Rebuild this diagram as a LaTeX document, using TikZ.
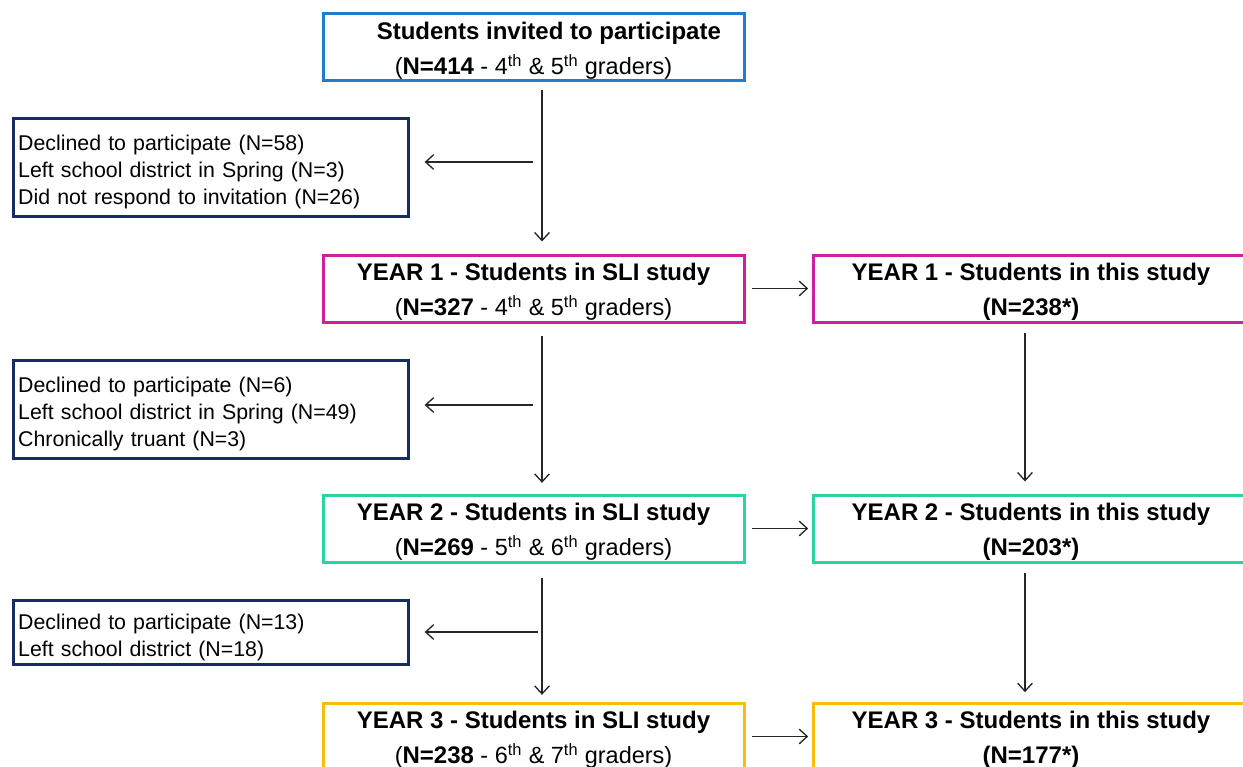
\documentclass[tikz,border=0pt]{standalone}
\usepackage{fontspec}
\setmainfont{Liberation Sans}
\usetikzlibrary{arrows.meta}
\definecolor{cblue}{RGB}{31,125,208}
\definecolor{cnavy}{RGB}{24,44,100}
\definecolor{cmag}{RGB}{204,32,160}
\definecolor{cteal}{RGB}{40,212,160}
\definecolor{cyel}{RGB}{250,190,10}
\newcommand{\boldpart}[1]{{\fontsize{18}{26.25}\selectfont\bfseries #1}}
\newcommand{\topstrut}{\rule{0pt}{18.5pt}}
\newcommand{\mainstrut}{\rule{0pt}{17.8pt}}
\begin{document}
\begin{tikzpicture}[x=0.75pt,y=-0.75pt,
  mainbox/.style={draw, line width=2.25pt, minimum width=315.75pt, minimum height=50.25pt,
    inner sep=0pt, align=center, font=\fontsize{17.6}{26.25}\selectfont},
  rightbox/.style={mainbox, minimum width=327pt},
  sidebox/.style={draw=cnavy, line width=2.25pt, minimum width=296.25pt, inner xsep=3.5pt, inner ysep=0pt,
    text width=289.25pt, align=left, font=\fontsize{16}{20.25}\selectfont},
  arr/.style={line width=1pt, draw=black!85, -{Straight Barb[length=6pt,width=11pt]}}]
\clip (0,0) rectangle (1243,767);
\fill[white] (0,0) rectangle (1243,767);
% boxes
\node[mainbox, draw=cblue] (top) at (533.5,47.5)
  {\mainstrut\hspace*{23pt}\boldpart{Students invited to participate}\\(\boldpart{N=414} - 4\textsuperscript{th} \& 5\textsuperscript{th} graders)};
\node[sidebox, minimum height=73.5pt] (d1) at (211,167.5)
  {\topstrut Declined to participate (N=58)\\Left school district in Spring (N=3)\\Did not respond to invitation (N=26)};
\node[mainbox, draw=cmag] (y1) at (533.5,288.5)
  {\mainstrut\boldpart{YEAR 1 - Students in SLI study}\\(\boldpart{N=327} - 4\textsuperscript{th} \& 5\textsuperscript{th} graders)};
\node[rightbox, draw=cmag] (t1) at (1031,288.5)
  {\mainstrut\boldpart{YEAR 1 - Students in this study}\\\boldpart{(N=238*)}};
\node[sidebox, minimum height=73.5pt] (d2) at (211,409)
  {\topstrut Declined to participate (N=6)\\Left school district in Spring (N=49)\\Chronically truant (N=3)};
\node[mainbox, draw=cteal] (y2) at (533.5,528.5)
  {\mainstrut\boldpart{YEAR 2 - Students in SLI study}\\(\boldpart{N=269} - 5\textsuperscript{th} \& 6\textsuperscript{th} graders)};
\node[rightbox, draw=cteal] (t2) at (1031,528.5)
  {\mainstrut\boldpart{YEAR 2 - Students in this study}\\\boldpart{(N=203*)}};
\node[sidebox, minimum height=48pt] (d3) at (211,632.5)
  {\topstrut Declined to participate (N=13)\\Left school district (N=18)};
\node[mainbox, draw=cyel] (y3) at (533.5,736.5)
  {\mainstrut\boldpart{YEAR 3 - Students in SLI study}\\(\boldpart{N=238} - 6\textsuperscript{th} \& 7\textsuperscript{th} graders)};
\node[rightbox, draw=cyel] (t3) at (1031,736.5)
  {\mainstrut\boldpart{YEAR 3 - Students in this study}\\\boldpart{(N=177*)}};
% coordinates
\coordinate (mx) at (542,0);
\coordinate (rx) at (1025,0);
\coordinate (s1) at (533,162);
\coordinate (s2) at (533,405);
\coordinate (s3) at (538,632);
% main vertical arrows
\draw[arr, shorten <=6pt, shorten >=9pt] (top.south -| mx) -- (y1.north -| mx);
\draw[arr, shorten <=9pt, shorten >=8pt] (y1.south -| mx) -- (y2.north -| mx);
\draw[arr, shorten <=11pt, shorten >=5pt] (y2.south -| mx) -- (y3.north -| mx);
% left arrows
\draw[arr, shorten >=11pt] (s1) -- (d1.east |- s1);
\draw[arr, shorten >=11pt] (s2) -- (d2.east |- s2);
\draw[arr, shorten >=11pt] (s3) -- (d3.east |- s3);
% right arrows
\draw[arr, shorten <=4.5pt, shorten >=2.5pt] (y1.east) -- (t1.west);
\draw[arr, shorten <=4.5pt, shorten >=2.5pt] (y2.east) -- (t2.west);
\draw[arr, shorten <=4.5pt, shorten >=2.5pt] (y3.east) -- (t3.west);
% right verticals
\draw[arr, shorten <=7pt, shorten >=9pt] (t1.south -| rx) -- (t2.north -| rx);
\draw[arr, shorten <=7pt, shorten >=7pt] (t2.south -| rx) -- (t3.north -| rx);
\end{tikzpicture}
\end{document}
